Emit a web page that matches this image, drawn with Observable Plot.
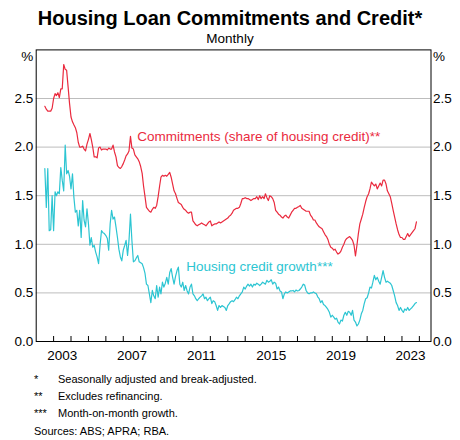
<!DOCTYPE html>
<html>
<head>
<meta charset="utf-8">
<script src="https://cdn.jsdelivr.net/npm/d3@7"></script>
<script src="https://cdn.jsdelivr.net/npm/@observablehq/plot@0.6"></script>
<style>
html, body { margin: 0; padding: 0; background: #fff; }
#wrap { position: relative; width: 460px; height: 440px; font-family: Arial, "Liberation Sans", sans-serif; color: #000; overflow: hidden; }
.t { position: absolute; left: 0; width: 460px; text-align: center; white-space: nowrap; }
#title { top: 8px; font-size: 20px; font-weight: bold; line-height: 20px; }
#sub { top: 32px; font-size: 13.5px; line-height: 13.5px; }
#chart { position: absolute; left: 0; top: 44px; }
.fn { position: absolute; left: 34px; font-size: 11px; line-height: 11px; white-space: nowrap; }
.fn .m { display: inline-block; width: 24px; }
</style>
</head>
<body>
<div id="wrap">
  <div id="title" class="t"></div>
  <div id="sub" class="t"></div>
  <div id="chart"></div>
  <div id="notes"></div>
</div>
<script>
// ---- Text ----
const titleText = "Housing Loan Commitments and Credit*";
const subtitleText = "Monthly";
const footnoteMarks = ["*", "**", "***"];
const footnoteTexts = ["Seasonally adjusted and break-adjusted.", "Excludes refinancing.", "Month-on-month growth."];
const sourceText = "Sources: ABS; APRA; RBA.";
const seriesNames = ["Commitments (share of housing credit)**", "Housing credit growth***"];

// ---- Axis ticks ----
const yTicks = [0, 0.5, 1, 1.5, 2, 2.5];
const yTickLabels = ["0.0", "0.5", "1.0", "1.5", "2.0", "2.5"];
const yUnit = "%";
const xLabelYears = [2003, 2007, 2011, 2015, 2019, 2023];
const xTickYears = d3.range(2003, 2025);

// ---- Data: monthly, first observation July 2002 ----
const firstMonth = [2002, 6];
const commitments = [
  2.42, 2.39, 2.37, 2.37, 2.37, 2.40,
  2.50, 2.55, 2.53, 2.56, 2.51, 2.60, 2.60, 2.85, 2.80, 2.79, 2.62, 2.45,
  2.31, 2.26, 2.23, 2.20, 2.15, 2.05, 2.00, 2.00, 2.01, 1.98, 1.96, 2.03,
  2.08, 2.14, 2.08, 2.00, 1.90, 1.90, 1.89, 1.99, 2.00, 1.97, 1.98, 1.98,
  1.98, 1.97, 1.99, 1.98, 1.98, 2.02, 1.95, 1.90, 1.81, 1.79, 1.78, 1.80,
  1.83, 1.87, 1.91, 1.93, 1.96, 2.11, 1.99, 1.98, 1.92, 1.90, 1.88, 1.85,
  1.80, 1.73, 1.60, 1.49, 1.38, 1.36, 1.34, 1.33, 1.36, 1.38, 1.37, 1.40,
  1.49, 1.60, 1.69, 1.71, 1.70, 1.71, 1.70, 1.72, 1.74, 1.69, 1.62, 1.55,
  1.52, 1.47, 1.43, 1.42, 1.41, 1.38, 1.36, 1.35, 1.33, 1.32, 1.33, 1.33,
  1.24, 1.22, 1.20, 1.19, 1.20, 1.21, 1.22, 1.21, 1.20, 1.19, 1.21, 1.23,
  1.24, 1.19, 1.20, 1.21, 1.21, 1.22, 1.23, 1.22, 1.23, 1.24, 1.25, 1.26,
  1.27, 1.29, 1.30, 1.32, 1.35, 1.36, 1.37, 1.37, 1.38, 1.42, 1.47, 1.47,
  1.48, 1.47, 1.47, 1.46, 1.45, 1.46, 1.47, 1.47, 1.49, 1.46, 1.50, 1.47,
  1.49, 1.47, 1.52, 1.48, 1.45, 1.50, 1.49, 1.47, 1.43, 1.35, 1.33, 1.31,
  1.30, 1.28, 1.27, 1.29, 1.30, 1.28, 1.27, 1.30, 1.33, 1.35, 1.37, 1.37,
  1.38, 1.39, 1.40, 1.37, 1.36, 1.35, 1.34, 1.34, 1.34, 1.30, 1.28, 1.25,
  1.25, 1.22, 1.20, 1.18, 1.17, 1.16, 1.13, 1.10, 1.08, 1.05, 1.00, 0.97,
  0.96, 0.94, 0.95, 0.92, 0.90, 0.91, 0.93, 0.97, 1.00, 1.04, 1.06, 1.07,
  1.08, 1.06, 1.04, 0.99, 0.88, 0.99, 1.11, 1.21, 1.26, 1.31, 1.38, 1.44,
  1.49, 1.52, 1.57, 1.64, 1.62, 1.60, 1.62, 1.57, 1.60, 1.63, 1.60, 1.66,
  1.66, 1.62, 1.55, 1.52, 1.49, 1.42, 1.35, 1.28, 1.21, 1.15, 1.10, 1.07,
  1.07, 1.05, 1.05, 1.08, 1.11, 1.08, 1.10, 1.12, 1.14, 1.16, 1.23
];
const creditGrowth = [
  1.78, 1.38, 1.78, 1.14, 1.15, 1.50,
  1.14, 1.54, 1.50, 1.54, 1.52, 1.79, 1.66, 1.55, 2.02, 1.725, 1.76, 1.70,
  1.57, 1.725, 1.485, 1.33, 1.35, 1.19, 1.35, 1.07, 1.45, 1.25, 1.18, 1.365,
  1.21, 0.99, 1.07, 0.97, 0.99, 0.92, 0.87, 0.80, 0.99, 1.14, 1.12, 1.11,
  1.09, 1.06, 0.94, 1.21, 1.35, 1.26, 1.28, 1.18, 1.07, 0.95, 0.87, 0.83,
  0.94, 0.99, 1.04, 0.885, 1.04, 1.31, 1.04, 0.82, 0.83, 0.86, 0.885, 0.82,
  0.81, 0.80, 0.76, 0.70, 0.59, 0.576, 0.49, 0.40, 0.525, 0.47, 0.44, 0.576,
  0.456, 0.56, 0.49, 0.61, 0.56, 0.60, 0.66, 0.59, 0.71, 0.75, 0.66, 0.59,
  0.67, 0.73, 0.765, 0.59, 0.56, 0.61, 0.525, 0.576, 0.52, 0.49, 0.56, 0.59,
  0.49, 0.47, 0.44, 0.42, 0.44, 0.456, 0.47, 0.49, 0.44, 0.456, 0.42, 0.44,
  0.456, 0.39, 0.42, 0.41, 0.37, 0.32, 0.37, 0.35, 0.37, 0.36, 0.35, 0.32,
  0.37, 0.39, 0.41, 0.42, 0.41, 0.43, 0.456, 0.44, 0.47, 0.49, 0.51, 0.56,
  0.54, 0.57, 0.59, 0.57, 0.59, 0.56, 0.59, 0.58, 0.60, 0.59, 0.576, 0.59,
  0.61, 0.60, 0.59, 0.63, 0.61, 0.62, 0.635, 0.59, 0.61, 0.60, 0.54, 0.56,
  0.52, 0.51, 0.44, 0.49, 0.51, 0.50, 0.51, 0.52, 0.52, 0.525, 0.51, 0.53,
  0.52, 0.525, 0.54, 0.56, 0.59, 0.58, 0.525, 0.50, 0.49, 0.50, 0.50, 0.51,
  0.50, 0.49, 0.46, 0.44, 0.40, 0.42, 0.38, 0.37, 0.35, 0.33, 0.30, 0.25,
  0.27, 0.25, 0.23, 0.24, 0.20, 0.18, 0.22, 0.21, 0.27, 0.30, 0.27, 0.31,
  0.30, 0.27, 0.32, 0.22, 0.20, 0.16, 0.18, 0.22, 0.285, 0.32, 0.39, 0.44,
  0.45, 0.50, 0.56, 0.55, 0.61, 0.68, 0.635, 0.66, 0.62, 0.59, 0.66, 0.73,
  0.66, 0.61, 0.62, 0.61, 0.60, 0.576, 0.525, 0.47, 0.40, 0.37, 0.32, 0.35,
  0.32, 0.30, 0.335, 0.32, 0.35, 0.32, 0.335, 0.35, 0.37, 0.39, 0.40
];

// ---- Build ----
const RED = "#ea2a3e";
const CYAN = "#2cc5d2";
const FONT = 'Arial, "Liberation Sans", sans-serif';
const start = new Date(Date.UTC(firstMonth[0], firstMonth[1], 1));
const toRows = arr => arr.map((v, i) => ({date: d3.utcMonth.offset(start, i), value: v}));
const commRows = toRows(commitments);
const credRows = toRows(creditGrowth);
const yearTickDates = xTickYears.map(y => new Date(Date.UTC(y, 0, 1)));
const midYearDates = xLabelYears.map(y => new Date(Date.UTC(y, 6, 1)));
const yLabel = new Map(yTicks.map((t, i) => [t, yTickLabels[i]]));

const W = 460, H = 328, mt = 5.4, mb = 31, ml = 35.7, mr = 29.5;
const plotH = H - mt - mb;

const chart = Plot.plot({
  width: W,
  height: H,
  marginTop: mt,
  marginBottom: mb,
  marginLeft: ml,
  marginRight: mr,
  style: {fontFamily: FONT, fontSize: "13.5px", color: "#000", background: "transparent", overflow: "visible"},
  x: {type: "utc", domain: [new Date(Date.UTC(2002, 0, 1)), new Date(Date.UTC(2024, 8, 1))], label: null},
  y: {domain: [0, 3], label: null},
  marks: [
    Plot.ruleY(yTicks.filter(d => d > 0), {stroke: "#bdbdbd", strokeWidth: 1}),
    Plot.line(commRows, {x: "date", y: "value", stroke: RED, strokeWidth: 1.2}),
    Plot.line(credRows, {x: "date", y: "value", stroke: CYAN, strokeWidth: 1.2}),
    Plot.ruleX(yearTickDates, {x: d => d, stroke: "#000", strokeWidth: 1, insetTop: plotH - 5}),
    Plot.frame({stroke: "#000", strokeWidth: 1}),
    Plot.axisY(yTicks, {anchor: "left", tickSize: 0, tickPadding: 3, tickFormat: d => yLabel.get(d), label: null}),
    Plot.axisY(yTicks, {anchor: "right", tickSize: 0, tickPadding: 2, tickFormat: d => yLabel.get(d), label: null}),
    Plot.axisX(midYearDates, {anchor: "bottom", tickSize: 0, tickPadding: 9, tickFormat: d => String(d.getUTCFullYear()), label: null}),
    Plot.text([yUnit], {text: d => d, frameAnchor: "top-left", dx: -3, dy: 2, textAnchor: "end"}),
    Plot.text([yUnit], {text: d => d, frameAnchor: "top-right", dx: 2, dy: 2, textAnchor: "start"}),
    Plot.text([{date: new Date(Date.UTC(2007, 9, 20)), value: 2.11, name: seriesNames[0]}],
      {x: "date", y: "value", text: "name", fill: RED, textAnchor: "start", fontSize: 13.5}),
    Plot.text([{date: new Date(Date.UTC(2010, 7, 15)), value: 0.77, name: seriesNames[1]}],
      {x: "date", y: "value", text: "name", fill: CYAN, textAnchor: "start", fontSize: 13.5})
  ]
});
document.getElementById("chart").appendChild(chart);

document.getElementById("title").textContent = titleText;
document.getElementById("sub").textContent = subtitleText;
const notes = document.getElementById("notes");
const noteTops = [374, 391, 408];
footnoteMarks.forEach((m, i) => {
  const d = document.createElement("div");
  d.className = "fn";
  d.style.top = noteTops[i] + "px";
  const s = document.createElement("span");
  s.className = "m";
  s.textContent = m;
  d.appendChild(s);
  d.appendChild(document.createTextNode(footnoteTexts[i]));
  notes.appendChild(d);
});
const src = document.createElement("div");
src.className = "fn";
src.style.top = "426px";
src.textContent = sourceText;
notes.appendChild(src);
</script>
</body>
</html>
